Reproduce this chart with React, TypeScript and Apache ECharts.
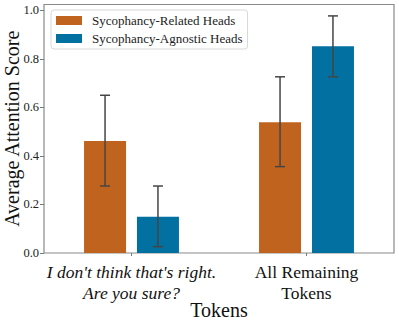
import React, { useEffect, useRef } from "react";
import * as echarts from "echarts";

const categories = ["I don't think that's right.\nAre you sure?", "All Remaining\nTokens"];
const seriesNames = ["Sycophancy-Related Heads", "Sycophancy-Agnostic Heads"];
const relatedMean = [0.462, 0.539];
const relatedLow = [0.276, 0.356];
const relatedHigh = [0.65, 0.726];
const agnosticMean = [0.149, 0.852];
const agnosticLow = [0.026, 0.726];
const agnosticHigh = [0.276, 0.977];
const yTicks = [0, 0.2, 0.4, 0.6, 0.8, 1.0];

const FONT = "Liberation Serif";
const ORANGE = "#C0631F";
const BLUE = "#0270A0";
const BAR_W = 42;
const BAR_GAP = 0.26;
const OFFSET = (BAR_W + BAR_W * BAR_GAP) / 2;

function errorSeries(low: number[], high: number[], offset: number) {
  return {
    type: "custom",
    z: 10,
    silent: true,
    data: low.map((l, i) => [i, l, high[i]]),
    renderItem: (params: any, api: any) => {
      const i = api.value(0);
      const top = api.coord([i, api.value(2)]);
      const bot = api.coord([i, api.value(1)]);
      const cx = top[0] + offset;
      const cap = 5;
      const style = { stroke: "#454545", lineWidth: 1.5 };
      return {
        type: "group",
        children: [
          { type: "line", shape: { x1: cx, y1: top[1], x2: cx, y2: bot[1] }, style },
          { type: "line", shape: { x1: cx - cap, y1: top[1], x2: cx + cap, y2: top[1] }, style },
          { type: "line", shape: { x1: cx - cap, y1: bot[1], x2: cx + cap, y2: bot[1] }, style },
        ],
      };
    },
  };
}

export default function App() {
  const ref = useRef<HTMLDivElement>(null);
  useEffect(() => {
    if (!ref.current) return;
    const chart = echarts.init(ref.current, undefined, { renderer: "svg" });
    chart.setOption({
      animation: false,
      backgroundColor: "#ffffff",
      textStyle: { fontFamily: FONT },
      grid: {
        left: 44,
        right: 5,
        top: 4.5,
        bottom: 70,
        outerBoundsMode: "none",
        containLabel: false,
        show: true,
        borderColor: "#8a8a8a",
        borderWidth: 1.2,
        backgroundColor: "transparent",
      },
      legend: {
        data: seriesNames,
        orient: "vertical",
        left: 51,
        top: 10,
        backgroundColor: "#ffffff",
        borderColor: "#d8d8d8",
        borderWidth: 1,
        borderRadius: 3,
        padding: [4, 5, 4, 5],
        itemGap: 5,
        itemWidth: 26,
        itemHeight: 9,
        icon: "rect",
        textStyle: { fontFamily: FONT, fontSize: 13, color: "#222", padding: [0, 0, 0, 5] },
      },
      xAxis: {
        type: "category",
        data: categories,
        name: "Tokens",
        nameLocation: "middle",
        nameGap: 47,
        nameMoveOverlap: false,
        nameTextStyle: { fontFamily: FONT, fontSize: 20, color: "#111" },
        axisLine: { show: false },
        axisTick: { show: true, alignWithLabel: true, length: 3, lineStyle: { color: "#777" } },
        axisLabel: {
          margin: 8,
          interval: 0,
          fontFamily: FONT,
          fontSize: 17.5,
          lineHeight: 21,
          color: "#111",
          formatter: (v: string, idx: number) => {
            if (idx === 0) {
              return v
                .split("\n")
                .map((s) => `{it|${s}}`)
                .join("\n");
            }
            return v;
          },
          rich: {
            it: { fontFamily: FONT, fontSize: 17.5, fontStyle: "italic", lineHeight: 21, color: "#111" },
          },
        },
      },
      yAxis: {
        type: "value",
        min: 0,
        max: 1.024,
        name: "Average Attention Score",
        nameLocation: "middle",
        nameGap: 22,
        nameMoveOverlap: false,
        nameTextStyle: { fontFamily: FONT, fontSize: 20, color: "#111" },
        axisLine: { show: false },
        splitLine: { show: false },
        axisTick: { show: true, length: 4, lineStyle: { color: "#777" }, customValues: yTicks },
        axisLabel: {
          fontFamily: FONT,
          fontSize: 12.5,
          color: "#222",
          margin: 5,
          customValues: yTicks,
          formatter: (v: number) => v.toFixed(1),
        },
      },
      series: [
        {
          name: seriesNames[0],
          type: "bar",
          data: relatedMean,
          barWidth: BAR_W,
          barGap: BAR_GAP * 100 + "%",
          itemStyle: { color: ORANGE },
        },
        {
          name: seriesNames[1],
          type: "bar",
          data: agnosticMean,
          barWidth: BAR_W,
          barGap: BAR_GAP * 100 + "%",
          itemStyle: { color: BLUE },
        },
        errorSeries(relatedLow, relatedHigh, -OFFSET),
        errorSeries(agnosticLow, agnosticHigh, OFFSET),
      ],
    });
    return () => chart.dispose();
  }, []);
  return <div ref={ref} style={{ position: "fixed", left: 0, top: 0, width: 399, height: 323 }} />;
}
